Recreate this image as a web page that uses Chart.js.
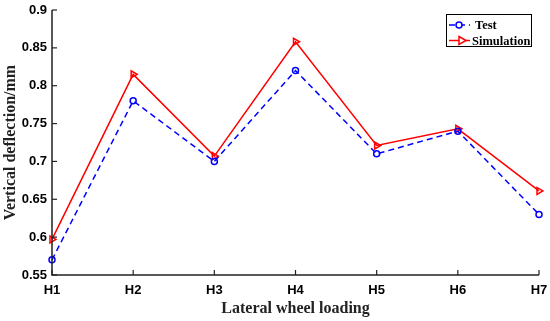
<!DOCTYPE html>
<html><head><meta charset="utf-8">
<script src="https://cdn.jsdelivr.net/npm/chart.js@4/dist/chart.umd.min.js"></script>
<style>html,body{margin:0;padding:0;background:#fff}#wrap{width:550px;height:321px}</style>
</head><body><div id="wrap"><canvas id="c" width="550" height="321"></canvas></div>
<script>
const categories = ["H1","H2","H3","H4","H5","H6","H7"];
const testValues = [0.57, 0.78, 0.70, 0.82, 0.71, 0.74, 0.63];
const simValues = [0.597, 0.815, 0.707, 0.858, 0.721, 0.743, 0.661];
const yTicks = [0.55, 0.6, 0.65, 0.7, 0.75, 0.8, 0.85, 0.9];

const inwardTicks = {
  id: 'inwardTicks',
  afterDraw(chart) {
    const ctx = chart.ctx, x = chart.scales.x, y = chart.scales.y;
    ctx.save();
    ctx.strokeStyle = '#222'; ctx.lineWidth = 1.5;
    ctx.beginPath();
    ctx.moveTo(x.left, y.top); ctx.lineTo(x.left, y.bottom); ctx.lineTo(x.right, y.bottom);
    ctx.stroke();
    ctx.lineWidth = 1.2;
    yTicks.forEach(v => { const p = y.getPixelForValue(v); ctx.beginPath(); ctx.moveTo(x.left, p); ctx.lineTo(x.left + 5, p); ctx.stroke(); });
    categories.forEach((c, i) => { const p = x.getPixelForValue(i); ctx.beginPath(); ctx.moveTo(p, y.bottom); ctx.lineTo(p, y.bottom - 5); ctx.stroke(); });
    ctx.restore();
  }
};

const boxLegend = {
  id: 'boxLegend',
  afterDraw(chart) {
    const ctx = chart.ctx;
    const bx = 446, by = 14, bw = 85, bh = 32;
    ctx.save();
    ctx.fillStyle = '#fff'; ctx.fillRect(bx, by, bw, bh);
    ctx.strokeStyle = '#000'; ctx.lineWidth = 1; ctx.strokeRect(bx + 0.5, by + 0.5, bw, bh);
    ctx.font = 'bold 12.5px "Liberation Serif", serif';
    ctx.textBaseline = 'middle';
    chart.data.datasets.forEach((ds, i) => {
      const cy = by + 11 + i * 15.5;
      ctx.strokeStyle = ds.borderColor; ctx.lineWidth = 1.5;
      ctx.setLineDash(ds.borderDash || []);
      ctx.beginPath(); ctx.moveTo(bx + 3, cy); ctx.lineTo(bx + 24, cy); ctx.stroke();
      ctx.setLineDash([]);
      if (i === 0) { ctx.beginPath(); ctx.arc(bx + 13, cy, 3, 0, Math.PI * 2); ctx.fillStyle='#fff'; ctx.fill(); ctx.stroke(); }
      else { ctx.beginPath(); ctx.moveTo(bx + 13, cy - 4); ctx.lineTo(bx + 20, cy); ctx.lineTo(bx + 13, cy + 4); ctx.closePath(); ctx.fillStyle='#fff'; ctx.fill(); ctx.stroke(); }
      ctx.fillStyle = '#000'; ctx.fillText(ds.label, bx + (i === 0 ? 29 : 26), cy + 1);
    });
    ctx.restore();
  }
};

new Chart(document.getElementById('c'), {
  type: 'line',
  data: {
    labels: categories,
    datasets: [
      { label: 'Test', data: testValues, borderColor: '#0000ff', backgroundColor: 'rgba(0,0,0,0)', borderWidth: 1.5, borderDash: [6, 4], pointStyle: 'circle', pointRadius: 3, pointBorderWidth: 1.5, pointBackgroundColor: 'rgba(0,0,0,0)', pointBorderColor: '#0000ff', tension: 0 },
      { label: 'Simulation', data: simValues, borderColor: '#ff0000', backgroundColor: 'rgba(0,0,0,0)', borderWidth: 1.5, pointStyle: 'triangle', rotation: 90, pointRadius: 4, pointBorderWidth: 1.5, pointBackgroundColor: 'rgba(0,0,0,0)', pointBorderColor: '#ff0000', tension: 0 }
    ]
  },
  options: {
    responsive: false, animation: false,
    layout: { padding: { left: 0, right: 11, top: 10, bottom: 0 } },
    plugins: { legend: { display: false }, tooltip: { enabled: false } },
    scales: {
      x: {
        offset: false,
        grid: { display: false, drawTicks: false },
        border: { display: false },
        ticks: { color: '#000', font: { family: '"Liberation Sans", Arial, sans-serif', weight: 'bold', size: 13 }, padding: 8, maxRotation: 0, autoSkip: false },
        title: { display: true, text: 'Lateral wheel loading', color: '#222', font: { family: '"Liberation Serif", serif', weight: 'bold', size: 16 }, padding: { top: 0, bottom: 3 } },
        afterFit(s) { s.height = 46; s.paddingLeft = 0; s.paddingRight = 0; }
      },
      y: {
        min: 0.55, max: 0.9,
        grid: { display: false, drawTicks: false },
        border: { display: false },
        afterBuildTicks(s) { s.ticks = yTicks.map(v => ({ value: v })); },
        ticks: { color: '#000', font: { family: '"Liberation Sans", Arial, sans-serif', weight: 'bold', size: 13 }, padding: 5, callback: v => String(+v.toFixed(2)) },
        title: { display: true, text: 'Vertical deflection/mm', color: '#222', font: { family: '"Liberation Serif", serif', weight: 'bold', size: 16 }, padding: { top: 1, bottom: 0 } },
        afterFit(s) { s.width = 52; s.paddingTop = 0; s.paddingBottom = 0; }
      }
    }
  },
  plugins: [inwardTicks, boxLegend]
});
</script></body></html>
